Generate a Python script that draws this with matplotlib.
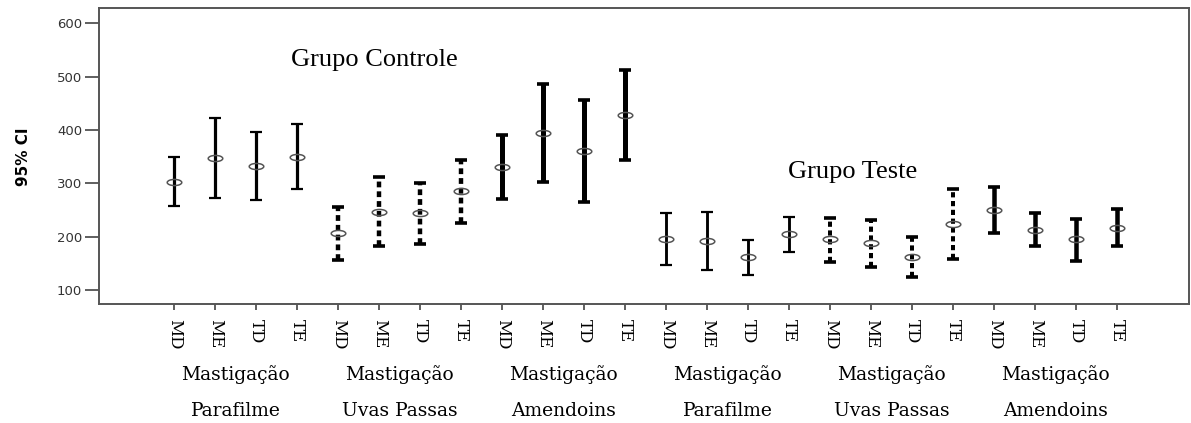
import matplotlib
matplotlib.use("Agg")
import matplotlib.pyplot as plt
from matplotlib.path import Path
from matplotlib.transforms import Affine2D, blended_transform_factory

sides = ["MD", "ME", "TD", "TE"]
conditions = ["Mastigação\nParafilme", "Mastigação\nUvas Passas", "Mastigação\nAmendoins"]
groups = ["Grupo Controle", "Grupo Teste"]

# 95% CI per group: mean, lower, upper (order: Parafilme, Uvas Passas, Amendoins x MD ME TD TE)
controle_mean = [303, 347, 332, 350, 206, 247, 244, 286, 331, 394, 361, 428]
controle_low = [257, 272, 268, 290, 156, 183, 187, 226, 270, 302, 265, 344]
controle_high = [349, 422, 396, 411, 256, 311, 300, 344, 391, 486, 456, 512]

teste_mean = [195, 192, 161, 205, 195, 189, 161, 224, 250, 213, 195, 217]
teste_low = [146, 137, 128, 172, 152, 144, 124, 159, 206, 182, 155, 182]
teste_high = [244, 246, 193, 237, 235, 231, 199, 289, 293, 244, 233, 251]

# ellipse marker like the SPSS output
ellipse = Path.unit_circle().transformed(Affine2D().scale(1.0, 0.42))

styles = [
    dict(lw=2.3, ls="-", capthick=1.6),
    dict(lw=3.2, ls=(0, (1.3, 0.9)), capthick=2.6),
    dict(lw=3.6, ls="-", capthick=2.6),
]

fig = plt.figure(figsize=(11.91, 4.23), dpi=100)
ax = fig.add_axes([0.0829, 0.2813, 0.9155, 0.6998])

means = controle_mean + teste_mean
lows = controle_low + teste_low
highs = controle_high + teste_high

for i in range(len(means)):
    st = styles[(i // 4) % 3]
    lw = st["lw"] if i < 12 else st["lw"] * 0.9
    eb = ax.errorbar(i, means[i], yerr=[[means[i] - lows[i]], [highs[i] - means[i]]],
                     fmt="none", ecolor="black", elinewidth=lw, capsize=4.5,
                     capthick=st["capthick"])
    eb[2][0].set_linestyle(st["ls"])
    ax.plot(i, means[i], marker=ellipse, ms=10.5, mfc="none", mec="#555555", mew=1.1,
            ls="none", zorder=5)

ax.set_xlim(-1.84, 24.75)
ax.set_ylim(73.75, 628.7)

ax.set_yticks([100, 200, 300, 400, 500, 600])
ax.tick_params(axis="y", length=10, width=1.2, color="#444444", pad=2,
               labelsize=9.5, labelcolor="#333333")
ax.set_xticks(range(24), sides * 6, rotation=-90, family="DejaVu Serif", fontsize=12)
ax.tick_params(axis="x", length=4, width=1.2, color="#444444", pad=7)

for s in ax.spines.values():
    s.set_color("#555555")
    s.set_linewidth(1.4)

fig.text(24 / 1191, 1 - 157 / 423, "95% CI", rotation=90, ha="center", va="center",
         fontsize=11, fontweight="bold")

# condition labels under each block of four
trans = blended_transform_factory(ax.transData, fig.transFigure)
for k in range(6):
    top, bottom = conditions[k % 3].split("\n")
    xc = 4 * k + 1.5
    ax.text(xc, 1 - 375 / 423, top, transform=trans, ha="center", va="center",
            family="DejaVu Serif", fontsize=13.5)
    ax.text(xc, 1 - 411 / 423, bottom, transform=trans, ha="center", va="center",
            family="DejaVu Serif", fontsize=13.5)

ax.text(4.875, 531, groups[0], ha="center", va="center", family="Liberation Serif",
        fontsize=19)
ax.text(16.55, 321, groups[1], ha="center", va="center", family="Liberation Serif",
        fontsize=19)

fig.savefig("out.png", dpi=100)
